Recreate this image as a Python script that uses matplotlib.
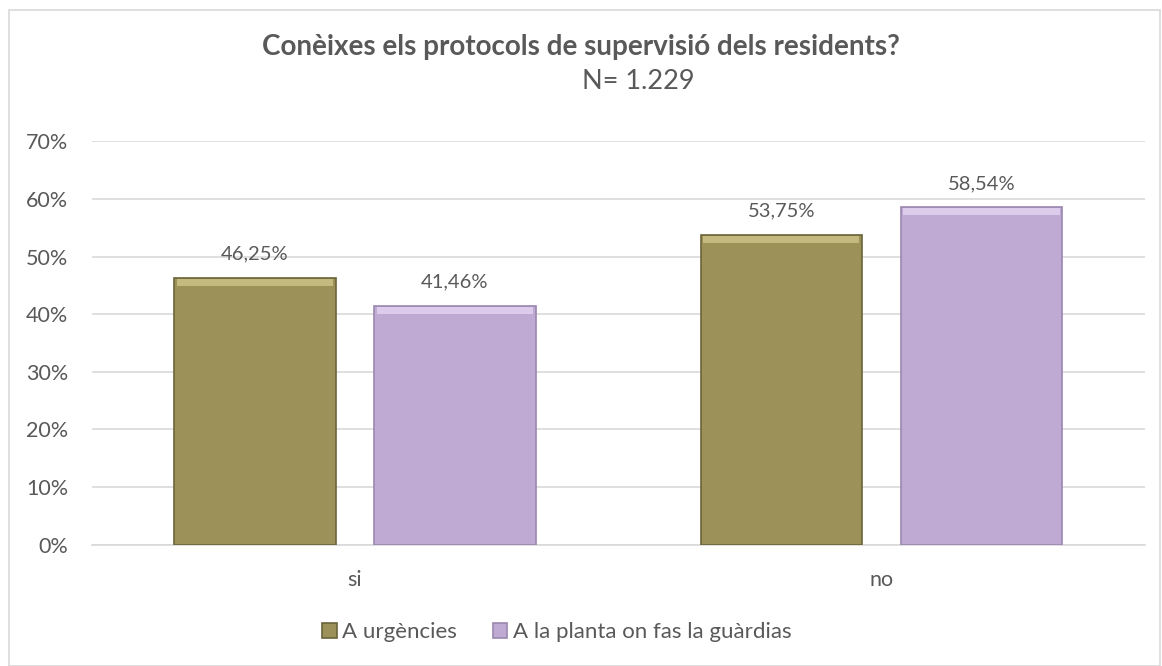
import matplotlib.pyplot as plt
from matplotlib.patches import Rectangle
import numpy as np

categories = ['si', 'no']
series_names = ['A urgències', 'A la planta on fas la guàrdias']
urgencies = [46.25, 53.75]
planta = [41.46, 58.54]
colors = ['#9b9159', '#bfaad3']
edge_colors = ['#6b6438', '#9a86ae']
top_colors = ['#c4ba80', '#dccbea']

plt.rcParams['font.family'] = ['Lato', 'DejaVu Sans']
text_color = '#595959'

fig = plt.figure(figsize=(11.62, 6.66), dpi=100)
fig.patches.append(Rectangle((0.008, 0.0), 0.99, 0.985, transform=fig.transFigure,
                             fill=False, edgecolor='#d9d9d9', linewidth=1.2))
ax = fig.add_axes([0.079, 0.182, 0.906, 0.606])

x = np.arange(len(categories))
width = 0.306
offset = 0.19
bevel = 1.2  # height of the lighter strip on top of each bar, in % units
series = [(urgencies, -offset, 0), (planta, offset, 1)]
for vals, off, i in series:
    vals = np.array(vals)
    bars = ax.bar(x + off, vals, width, color=colors[i], edgecolor=edge_colors[i],
                  linewidth=1.2, label=series_names[i], zorder=3)
    # bevel highlight
    ax.bar(x + off, bevel, width * 0.97, bottom=vals - bevel - 0.15, color=top_colors[i],
           linewidth=0, zorder=4)
    for b, v in zip(bars, vals):
        ax.annotate(f'{v:.2f}%'.replace('.', ','), (b.get_x() + b.get_width() / 2, v),
                    xytext=(0, 11), textcoords='offset points', ha='center', va='bottom',
                    fontsize=14.5, color=text_color)

ax.set_xlim(-0.5, 1.5)
ax.set_ylim(0, 70)
ax.set_yticks(range(0, 71, 10))
ax.set_yticklabels([f'{t}%' for t in range(0, 71, 10)])
ax.set_xticks(x)
ax.set_xticklabels(categories)
ax.yaxis.grid(True, color='#d9d9d9', linewidth=1.2, zorder=0)
for s in ['top', 'right', 'left']:
    ax.spines[s].set_visible(False)
ax.spines['bottom'].set_color('#d9d9d9')
ax.spines['bottom'].set_linewidth(1.2)
ax.tick_params(axis='both', length=0, labelsize=15.5, colors=text_color)
ax.tick_params(axis='x', pad=18)
ax.tick_params(axis='y', pad=17)

fig.text(0.5, 0.929, 'Conèixes els protocols de supervisió dels residents?', ha='center',
         va='center', fontsize=20, fontweight='bold', color=text_color)
fig.text(0.549, 0.878, 'N= 1.229', ha='center', va='center', fontsize=19.5, color=text_color)

fig.legend(loc='center', bbox_to_anchor=(0.479, 0.051), ncol=2, frameon=False,
           fontsize=16, labelcolor=text_color, handlelength=0.65, handleheight=0.65,
           handletextpad=0.25, columnspacing=1.6)

fig.savefig('out.png', dpi=100)
